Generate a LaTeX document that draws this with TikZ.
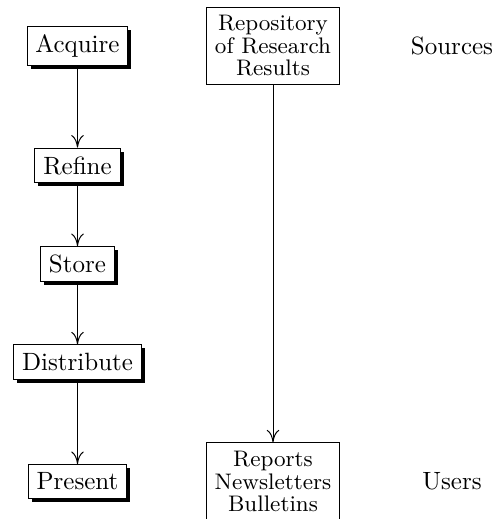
\documentclass[tikz,border=0pt]{standalone}
\usepackage{tikz}
\usetikzlibrary{positioning,shadows,arrows.meta}

\begin{document}
\begin{tikzpicture}[
    stagebox/.style={draw, fill=white, drop shadow={shadow xshift=1.4pt, shadow yshift=-1.4pt, fill=black, opacity=1}},
    repobox/.style={draw, fill=white, align=center, font=\fontsize{9}{9}\selectfont},
    flow/.style={-{Computer Modern Rightarrow[length=5pt,width=5pt]}}
]
    \useasboundingbox (0,0) rectangle (199.6pt,-207.6pt);

    % Stages
    \node[stagebox] (acquire) at (31pt,-18.4pt) {Acquire};
    \node[stagebox] (refine) at (31pt,-66.2pt) {Refine};
    \node[stagebox] (store) at (31pt,-105.6pt) {Store};
    \node[stagebox] (distribute) at (31pt,-144.8pt) {Distribute};
    \node[stagebox] (present) at (31pt,-192.6pt) {Present};

    % Material
    \node[repobox] (repo) at (109.2pt,-18.4pt) {Repository\\of Research\\Results};
    \node[repobox] (reports) at (109.2pt,-192.6pt) {Reports\\Newsletters\\Bulletins};

    % Ends
    \node (sources) at (180.8pt,-18.4pt) {Sources};
    \node (users) at (180.8pt,-192.6pt) {Users};

    % Flow
    \draw[flow] (acquire) -- (refine);
    \draw[flow] (refine) -- (store);
    \draw[flow] (store) -- (distribute);
    \draw[flow] (distribute) -- (present);
    \draw[flow] (repo) -- (reports);
\end{tikzpicture}
\end{document}
